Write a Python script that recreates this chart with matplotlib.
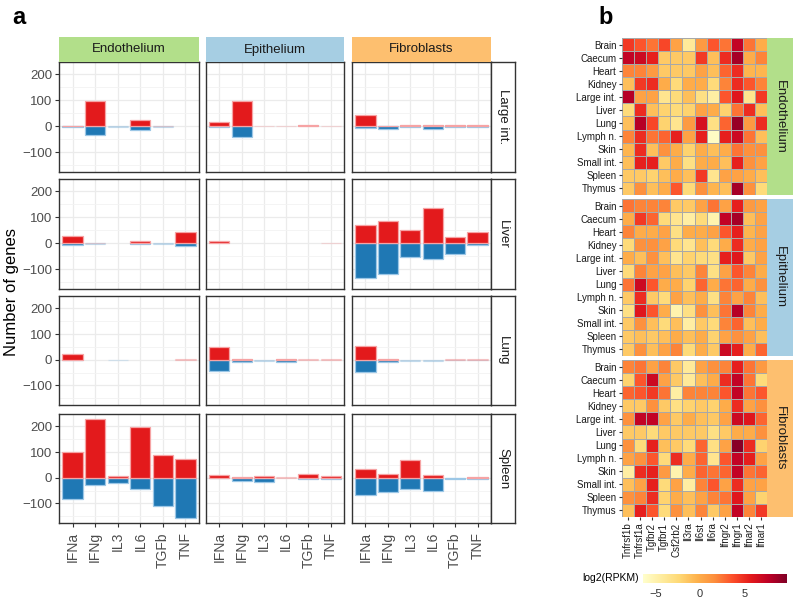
import matplotlib
matplotlib.use('Agg')
import matplotlib.pyplot as plt
import numpy as np

plt.rcParams['font.family'] = ['Liberation Sans', 'DejaVu Sans']
plt.rcParams['axes.unicode_minus'] = True

# ---------------- data: panel a ----------------
cytokines = ['IFNa', 'IFNg', 'IL3', 'IL6', 'TGFb', 'TNF']
cell_types = ['Endothelium', 'Epithelium', 'Fibroblasts']
tissues_a = ['Large int.', 'Liver', 'Lung', 'Spleen']

# upregulated genes per tissue -> [Endothelium, Epithelium, Fibroblasts]
up_large_int = [[3, 96, 0, 26, 1, 0], [17, 98, 2, 2, 5, 2], [42, 3, 7, 5, 6, 4]]
down_large_int = [[-3, -35, -2, -13, -1, 0], [-2, -41, 0, 0, 0, 0], [-6, -11, -4, -9, -1, -1]]
up_liver = [[27, 3, 0, 10, 0, 44], [10, 0, 0, 0, 0, 3], [70, 88, 52, 138, 26, 45]]
down_liver = [[-8, -3, 0, -3, -3, -10], [0, 0, 0, 0, 0, 0], [-135, -117, -52, -62, -42, -5]]
up_lung = [[21, 0, 0, 0, 0, 4], [48, 1, 0, 4, 3, 3], [53, 1, 0, 0, 3, 3]]
down_lung = [[-1, 0, -2, 0, 0, 0], [-43, -7, -3, -8, 0, 0], [-48, -10, -3, -3, -1, -1]]
up_spleen = [[100, 228, 5, 199, 88, 74], [9, 1, 5, 2, 13, 5], [35, 16, 68, 10, 0, 1]]
down_spleen = [[-82, -30, -21, -43, -109, -157], [-2, -12, -16, 0, -4, -4], [-66, -55, -44, -53, -4, -4]]

up_genes = [up_large_int, up_liver, up_lung, up_spleen]
down_genes = [down_large_int, down_liver, down_lung, down_spleen]

# bars drawn faded (weak responses)
faded = {
    ('Large int.', 'Endothelium'): ['IL3', 'TGFb'],
    ('Large int.', 'Epithelium'): ['IL3', 'IL6', 'TNF'],
    ('Liver', 'Endothelium'): ['IFNg', 'TGFb'],
    ('Liver', 'Epithelium'): ['TNF'],
    ('Lung', 'Endothelium'): ['IL3', 'TNF'],
    ('Lung', 'Epithelium'): ['IL3', 'TGFb', 'TNF'],
    ('Lung', 'Fibroblasts'): ['IL3', 'IL6', 'TGFb', 'TNF'],
    ('Spleen', 'Epithelium'): ['IL6'],
}

# ---------------- data: panel b ----------------
tissues_b = ['Brain', 'Caecum', 'Heart', 'Kidney', 'Large int.', 'Liver', 'Lung',
             'Lymph n.', 'Skin', 'Small int.', 'Spleen', 'Thymus']
receptors = ['Tnfrsf1b', 'Tnfrsf1a', 'Tgfbr2', 'Tgfbr1', 'Csf2rb2', 'Il3ra',
             'Il6st', 'Il6ra', 'Ifngr2', 'Ifngr1', 'Ifnar2', 'Ifnar1']

rpkm_endothelium = [
    [4.5, 3.5, 2.5, 4, 0.5, -4, 1, 3.5, 2.5, 7.5, 2.5, 0],
    [7.5, 7, 5.5, -1.5, -1.5, -1.5, 4.5, -1, 5, 8.5, 0, 2],
    [2, 2, 1, -1.5, -1.5, -1.5, 0.5, -1, 3, 5, -0.5, -0.5],
    [-1, 4.5, 5, 0, -2.5, 0, 0, -2.5, 2, 5, 3.5, 2],
    [8, 0.5, 0.5, -3.5, -2.5, -1, -3, -4.5, 3.5, 6, -3.5, 4.5],
    [-2.5, 5, -1, -2, -2.5, -2, 0.5, 0, -2, 2.5, 5, -1],
    [-1, 8, 4, -2, -3.5, 1, 6.5, -3, 3, 9, 1, 5],
    [2, 5, 2.5, 3, 5.5, 0.5, 5.5, -6, 5.5, 7, 2.5, -1],
    [-0.5, 5, -1, 1.5, 0, -2, 0, -1, 0, 2.5, 1.5, 1.5],
    [-1, 5.5, 5.5, -1.5, 0, -3, 0, 0, -1, 5.5, 1.5, 0.5],
    [-1.5, -1.5, -2, -1, 0, -1, 4.5, -3.5, 0.5, 0.5, 0, -1],
    [-1.5, 1.5, -1, 0, 3.5, -2.5, 1.5, -0.5, -1, 8.5, 1.5, -2.5],
]
rpkm_epithelium = [
    [2.5, 2, 2, 2, -1.5, -1.5, 0.5, 2.5, 0.5, 5.5, 1, 0.5],
    [0, 4.5, 3, -2.5, -3.5, -4.5, -2.5, -5, 7.5, 8.5, -1, 0.5],
    [2, 0, 0, 0.5, -3, 0, 0, 0.5, 3.5, 5.5, -0.5, 0.5],
    [-2.5, 1.5, 1.5, 0.5, -2.5, -3.5, -1, -2.5, 0, 5, 0, 0.5],
    [0, -1, 1.5, -1, -3.5, -2, -2.5, -3, 5.5, 6, -1.5, 0.5],
    [-2.5, 2, 0.5, 0.5, -1, -1.5, 2, -3, 0.5, 3.5, 2, 0],
    [2.5, 7, 3.5, 0, 0, -2, 3, 0, 2.5, 3, 0, 1.5],
    [-1.5, 5, -1.5, -2.5, 0.5, -1, 0, -3, 2, 0.5, 2, -1],
    [-3, 6, 3.5, 0, -5, -3, 1.5, -1, 2.5, 8, 2, 0],
    [-1.5, 1.5, -1, -2.5, -1, -4.5, -1.5, -2.5, 2, 3, -1, 0],
    [-1.5, -1, -1.5, -1, 0, -1, 0, -2, 0.5, 1.5, 0.5, -1],
    [-1.5, 1.5, -1, 0.5, 2, -2.5, 0, -1.5, 7, 5.5, 0, 3],
]
rpkm_fibroblasts = [
    [2, 2.5, 0.5, 2, -1.5, -4, 0.5, 1.5, 2, 5.5, 2.5, 1],
    [-2, 3.5, 7, 0.5, -1.5, -4, -1, 0, 5, 7.5, 2.5, -2.5],
    [3, 3.5, 4.5, 2.5, -4.5, 2, 2, 2, 3.5, 7.5, 2.5, 3.5],
    [-1.5, -1.5, 1.5, -1.5, -3, -2, -1.5, -2, 0, 5, 0.5, 1.5],
    [1.5, 7.5, 7.5, 0.5, -1.5, 0, -1, -1.5, 0.5, 7, 6, 3],
    [-1.5, -1.5, -2.5, -1.5, -1.5, -1.5, -1.5, -3, -1.5, 0, 0, 1.5],
    [1.5, -2.5, 5.5, -1, -1.5, -2.5, 3, -3, 0.5, 9.5, 5, -2],
    [0.5, 1.5, 3.5, -2.5, 5, 0, 3, -3.5, 3.5, 7.5, 5.5, 0.5],
    [-4.5, 5, 5.5, 1, -5, 0, 3, 2.5, 3, 7.5, 2.5, 3],
    [-1, 0.5, 5.5, -2.5, 0.5, -4.5, 2, 3.5, 0.5, 5, 0.5, 0.5],
    [1.5, 2, 5, -2, 0, -1, 0.5, 2, 2.5, 6, 0.5, -2],
    [-1, 5.5, 3.5, -2.5, 1.5, -1, 2, -1.5, 0.5, 7.5, 2, 4.5],
]
rpkm_blocks = [rpkm_endothelium, rpkm_epithelium, rpkm_fibroblasts]
colorbar_ticks = [-5, 0, 5]

# ---------------- layout helpers ----------------
W, H = 800, 601
fig = plt.figure(figsize=(8, 6.01), dpi=100)


def box(x0, y0, x1, y1):
    return [x0 / W, 1 - y1 / H, (x1 - x0) / W, (y1 - y0) / H]


strip_colors = ['#b2df8a', '#a6cee3', '#fdbf6f']
red, blue = '#e31a1c', '#1f78b4'
red_edge, blue_edge = '#f6a3a4', '#9cc7e6'

col_x = [(59, 199), (206, 344), (352, 491)]
row_y = [(62, 172), (179, 289), (296, 405), (414, 523)]

for r, t in enumerate(tissues_a):
    for c, ct in enumerate(cell_types):
        ax = fig.add_axes(box(col_x[c][0], row_y[r][0], col_x[c][1], row_y[r][1]))
        ax.set_axisbelow(True)
        fl = faded.get((t, ct), [])
        x = np.arange(len(cytokines))
        alphas = [0.35 if k in fl else 1.0 for k in cytokines]
        for i in range(len(cytokines)):
            u = up_genes[r][c][i]
            d = down_genes[r][c][i]
            if d != 0:
                ax.bar(x[i], d, 0.9, color=blue, alpha=alphas[i],
                       edgecolor=blue_edge, linewidth=0.9)
            if u != 0:
                ax.bar(x[i], u, 0.9, color=red, alpha=alphas[i],
                       edgecolor=red_edge, linewidth=0.9)
        ax.set_xlim(-0.6, 5.6)
        ax.set_ylim(-176, 248)
        ax.set_yticks([-100, 0, 100, 200])
        ax.set_yticks([-150, -50, 50, 150], minor=True)
        ax.set_xticks(x)
        ax.grid(True, which='major', color='#ebebeb', linewidth=0.9)
        ax.grid(True, which='minor', axis='y', color='#f3f3f3', linewidth=0.6)
        for s in ax.spines.values():
            s.set_color('#333333')
            s.set_linewidth(1.0)
        ax.tick_params(which='minor', length=0)
        ax.tick_params(colors='#333333', length=3, width=0.8)
        if c == 0:
            ax.tick_params(axis='y', labelsize=9.5, labelcolor='#4d4d4d', pad=2)
        else:
            ax.tick_params(axis='y', length=0, labelleft=False)
        if r == len(tissues_a) - 1:
            ax.set_xticklabels(cytokines, rotation=90, fontsize=10, color='#4d4d4d')
        else:
            ax.tick_params(axis='x', length=0, labelbottom=False)
    # right strip
    sax = fig.add_axes(box(491, row_y[r][0], 515, row_y[r][1]))
    sax.set_xticks([]); sax.set_yticks([])
    sax.set_facecolor('white')
    for s in sax.spines.values():
        s.set_color('#333333'); s.set_linewidth(1.0)
    sax.text(0.5, 0.5, t, rotation=-90, ha='center', va='center', fontsize=9.5,
             color='#1a1a1a', transform=sax.transAxes)

for c, ct in enumerate(cell_types):
    sax = fig.add_axes(box(col_x[c][0], 37, col_x[c][1], 62))
    sax.set_facecolor(strip_colors[c])
    sax.set_xticks([]); sax.set_yticks([])
    for s in sax.spines.values():
        s.set_visible(False)
    sax.text(0.5, 0.5, ct, ha='center', va='center', fontsize=9.5,
             color='#1a1a1a', transform=sax.transAxes)

fig.text(12 / W, 1 - 292 / H, 'Number of genes', rotation=90, ha='center',
         va='center', fontsize=12)
fig.text(12 / W, 1 - 18 / H, 'a', fontsize=17, fontweight='bold', ha='left', va='center')
fig.text(598 / W, 1 - 18 / H, 'b', fontsize=17, fontweight='bold', ha='left', va='center')

# ---------------- panel b ----------------
vmin, vmax = -6.4, 9.8
cmap = plt.get_cmap('YlOrRd')
block_y = [(38, 195), (199, 356), (360, 517)]
for b, ct in enumerate(cell_types):
    ax = fig.add_axes(box(622, block_y[b][0], 767, block_y[b][1]))
    vals = np.array(rpkm_blocks[b])
    ax.pcolormesh(vals, cmap=cmap, vmin=vmin, vmax=vmax,
                  edgecolors='#a8a8a8', linewidth=0.7)
    ax.set_xlim(0, len(receptors))
    ax.set_ylim(len(tissues_b), 0)
    ax.set_yticks(np.arange(len(tissues_b)) + 0.5)
    ax.set_yticklabels(tissues_b, fontsize=7, color='#1a1a1a')
    ax.tick_params(axis='y', length=2, pad=2, color='#333333')
    for s in ax.spines.values():
        s.set_visible(False)
    if b == 2:
        ax.set_xticks(np.arange(len(receptors)) + 0.5)
        ax.set_xticklabels(receptors, rotation=90, fontsize=7, color='#1a1a1a')
        ax.tick_params(axis='x', length=2, pad=2, color='#333333')
    else:
        ax.set_xticks([])
    sax = fig.add_axes(box(767, block_y[b][0], 793, block_y[b][1]))
    sax.set_facecolor(strip_colors[b])
    sax.set_xticks([]); sax.set_yticks([])
    for s in sax.spines.values():
        s.set_visible(False)
    sax.text(0.5, 0.5, ct, rotation=-90, ha='center', va='center', fontsize=9.5,
             color='#1a1a1a', transform=sax.transAxes)

cax = fig.add_axes(box(643, 574, 787, 583))
grad = np.linspace(vmin, vmax, 256)[None, :]
cax.imshow(grad, aspect='auto', cmap=cmap, vmin=vmin, vmax=vmax,
           extent=[vmin, vmax, 0, 1])
cax.set_yticks([])
cax.set_xticks(colorbar_ticks)
cax.set_xticklabels(['\u22125', '0', '5'], fontsize=8, color='#333333')
cax.tick_params(axis='x', length=2, color='white', pad=2)
for s in cax.spines.values():
    s.set_visible(False)
fig.text(639 / W, 1 - 578 / H, 'log2(RPKM)', ha='right', va='center', fontsize=7.5)

fig.savefig('out.png', dpi=100)
